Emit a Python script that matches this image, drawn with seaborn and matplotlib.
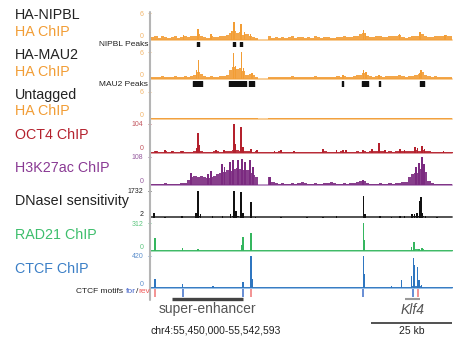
import numpy as np
import seaborn as sns
import matplotlib.pyplot as plt
from matplotlib.lines import Line2D

sns.set_theme(style="white")
plt.rcParams['font.family'] = ['Liberation Sans', 'DejaVu Sans']

# region shown: chr4:55,450,000-55,542,593, positions in kb from region start
REGION_KB = 92.593
REGION_LABEL = "chr4:55,450,000-55,542,593"

# background signal, 1 kb bins (None = no data)
NIPBL_BG = [0.6, 0.8, 0.5, 0.9, 0.7, 0.4, 0.6, 0.9, 0.5, 0.7,
            0.8, 0.6, 0.9, 1.0, 1.4, 0.8, 0.6, 0.5, 0.9, 0.7,
            0.6, 0.9, 0.8, 1.1, 1.6, 2.0, 1.5, 1.8, 1.2, 1.4,
            1.0, 0.7, 0.5, 0.4, None, None, 0.8, 0.5, 0.6, 0.4,
            0.7, 0.5, 0.6, 0.8, 0.5, 0.6, 0.7, 0.5, 0.6, 0.4,
            0.8, 0.6, 0.5, 0.7, 0.6, 0.4, 0.5, 0.7, 0.6, 0.8,
            0.7, 0.6, 0.9, 1.0, 1.3, 1.6, 1.0, 0.7, 0.6, 0.8,
            0.9, 0.6, 0.7, 0.8, 0.9, 1.0, 1.2, 0.7, 0.5, 0.6,
            0.8, 0.9, 1.0, 1.3, 0.9, 0.7, 0.6, 0.8, 1.0, 0.9,
            1.2, 0.8, 0.9]
NIPBL_SPIKES = [(10.0, 1.2), (14.5, 2.4), (18.5, 1.3), (24.8, 2.0), (25.5, 4.1),
                (27.7, 3.6), (28.8, 1.7), (30.6, 1.4), (65.3, 2.2), (66.0, 1.5),
                (76.5, 1.3), (82.8, 1.8), (90.5, 1.2)]
NIPBL_PEAKS = [(14.1, 0.8), (25.1, 0.8), (27.3, 0.8)]

MAU2_BG = [0.4, 0.5, 0.4, 0.6, 0.5, 0.4, 0.5, 0.6, 0.4, 0.5,
           0.6, 0.5, 0.7, 1.0, 1.6, 1.2, 0.6, 0.5, 0.6, 0.5,
           0.5, 0.6, 0.7, 0.9, 2.0, 2.6, 2.2, 2.4, 1.8, 0.9,
           1.1, 0.8, 0.5, 0.4, None, None, 0.5, 0.4, 0.5, 0.4,
           0.5, 0.4, 0.5, 0.6, 0.4, 0.5, 0.5, 0.4, 0.5, 0.4,
           0.6, 0.5, 0.4, 0.5, 0.5, 0.4, 0.5, 0.6, 0.5, 0.7,
           0.5, 0.5, 0.6, 0.8, 1.0, 1.3, 0.9, 0.6, 0.5, 0.6,
           0.7, 0.5, 0.6, 0.7, 0.6, 0.7, 0.8, 0.6, 0.5, 0.6,
           0.7, 0.9, 1.2, 1.5, 1.0, 0.7, 0.5, 0.6, 0.5, 0.4,
           0.5, 0.4, 0.5]
MAU2_SPIKES = [(14.0, 2.0), (14.6, 4.2), (25.3, 5.8), (26.0, 3.0), (27.9, 6.4),
               (28.5, 2.4), (31.0, 1.3), (59.0, 0.9), (65.3, 2.0), (66.2, 1.5),
               (70.2, 0.9), (82.8, 1.4), (83.1, 2.1)]
MAU2_PEAKS = [(12.9, 2.8), (24.0, 5.2), (30.2, 1.5), (58.8, 0.3),
              (65.0, 1.9), (70.2, 0.3), (82.6, 1.4)]

UNTAGGED_BG = [0.2, 0.3, 0.2, 0.2, 0.3, 0.2, 0.3, 0.2, 0.2, 0.3,
               0.2, 0.3, 0.2, 0.3, 0.3, 0.2, 0.2, 0.3, 0.2, 0.3,
               0.2, 0.3, 0.2, 0.3, 0.3, 0.3, 0.2, 0.3, 0.2, 0.2,
               0.3, 0.2, 0.2, 0.2, None, None, 0.2, 0.3, 0.2, 0.2,
               0.3, 0.2, 0.2, 0.3, 0.2, 0.2, 0.3, 0.2, 0.3, 0.2,
               0.2, 0.3, 0.2, 0.2, 0.3, 0.2, 0.3, 0.2, 0.2, 0.3,
               0.2, 0.3, 0.2, 0.3, 0.2, 0.3, 0.2, 0.2, 0.3, 0.2,
               0.3, 0.2, 0.2, 0.3, 0.2, 0.3, 0.2, 0.2, 0.3, 0.2,
               0.3, 0.2, 0.3, 0.3, 0.2, 0.2, 0.3, 0.2, 0.2, 0.3,
               0.2, 0.3, 0.2]
UNTAGGED_SPIKES = []

OCT4_BG = [3, 5, 2, 3, 6, 3, 4, 2, 3, 4,
           2, 3, 3, 5, 9, 6, 3, 2, 3, 4,
           4, 3, 5, 4, 7, 10, 8, 6, 7, 5,
           6, 3, 5, 2, 2, 2, 3, 2, 3, 4,
           2, 3, 2, 3, 2, 3, 2, 2, 3, 2,
           3, 2, 3, 4, 2, 3, 2, 3, 4, 3,
           2, 3, 3, 4, 3, 4, 3, 4, 5, 4,
           6, 4, 3, 4, 3, 4, 5, 4, 6, 5,
           6, 8, 7, 8, 6, 4, 3, 2, 3, 2,
           3, 2, 3]
OCT4_SPIKES = [(1.5, 6), (4.3, 10), (6.5, 6), (9.5, 5), (14.0, 18), (14.5, 72),
               (15.0, 28), (20.0, 8), (22.5, 10), (25.5, 104), (26.0, 30),
               (27.7, 94), (28.3, 20), (30.8, 12), (32.6, 10), (38.0, 6),
               (40.0, 8), (44.0, 5), (52.9, 12), (57.0, 8), (59.0, 10),
               (60.0, 8), (65.2, 8), (68.0, 12), (70.2, 35), (72.0, 8),
               (76.6, 14), (78.0, 10), (81.2, 20), (82.0, 16), (83.4, 22),
               (84.2, 12), (90.0, 6)]

H3K27AC_BG = [4, 5, 3, 4, 6, 5, 4, 3, 5, 6,
              8, 20, 32, 36, 30, 36, 30, 26, 30, 34,
              42, 48, 52, 58, 55, 62, 66, 60, 56, 58,
              46, 40, 30, 14, None, None, 30, 12, 6, 5,
              6, 4, 5, 6, 5, 8, 12, 6, 5, 4,
              6, 5, 4, 6, 8, 12, 6, 5, 4, 6,
              5, 6, 8, 12, 16, 14, 8, 5, 4, 5,
              6, 5, 4, 6, 5, 6, 8, 10, 12, 30,
              42, 48, 62, 72, 50, 14, 6, 4, 5, 3,
              4, 3, 3]
H3K27AC_SPIKES = [(12.3, 48), (17.5, 42), (18.5, 55), (21.8, 82), (22.6, 70),
                  (24.3, 90), (25.2, 96), (26.8, 98), (28.0, 100), (28.9, 88),
                  (30.5, 96), (31.4, 70), (36.6, 31), (65.2, 19), (81.5, 70),
                  (82.5, 86), (83.3, 108), (84.0, 80)]

DNASE_BG = [20, 30, 15, 20, 35, 15, 20, 15, 25, 30,
            15, 20, 30, 40, 80, 40, 20, 15, 30, 20,
            25, 40, 30, 35, 60, 80, 70, 60, 50, 40,
            60, 30, 25, 15, None, None, 15, 20, 15, 20,
            30, 15, 20, 15, 20, 25, 15, 20, 30, 15,
            20, 15, 25, 30, 15, 20, 30, 40, 20, 15,
            20, 15, 20, 25, 40, 60, 30, 20, 15, 20,
            30, 20, 15, 20, 25, 20, 30, 35, 40, 60,
            80, 90, 100, 90, 50, 30, 20, 15, 20, 15,
            20, 15, 20]
DNASE_SPIKES = [(0.9, 270), (4.3, 60), (9.5, 80), (13.8, 300), (14.5, 1732),
                (15.2, 200), (19.0, 80), (22.0, 80), (24.5, 200), (25.6, 1732),
                (26.2, 400), (27.7, 1650), (28.3, 300), (30.8, 1040), (32.2, 60),
                (40.0, 40), (48.0, 40), (52.9, 40), (57.0, 100), (65.3, 1385),
                (65.8, 200), (70.5, 80), (74.0, 60), (76.6, 80), (78.0, 120),
                (80.3, 200), (81.0, 250), (81.8, 300), (82.8, 1065), (83.1, 1350),
                (83.6, 300), (84.4, 80), (88.0, 40)]

RAD21_BG = [10, 12, 9, 10, 11, 9, 10, 12, 10, 9,
            11, 10, 9, 10, 12, 10, 9, 10, 11, 10,
            9, 10, 11, 10, 12, 11, 10, 12, 14, 12,
            12, 10, 9, 10, 9, 10, 9, 10, 11, 9,
            10, 9, 10, 11, 9, 10, 9, 10, 9, 10,
            11, 9, 10, 9, 10, 11, 9, 10, 9, 10,
            9, 10, 11, 12, 14, 16, 12, 10, 9, 10,
            9, 10, 11, 9, 10, 9, 10, 11, 12, 14,
            16, 18, 16, 20, 14, 10, 9, 10, 9, 10,
            9, 10, 9]
RAD21_SPIKES = [(1.2, 145), (9.7, 35), (14.4, 20), (28.0, 70), (28.3, 160),
                (30.8, 197), (65.3, 312), (65.6, 120), (80.2, 40), (80.9, 100),
                (82.5, 20), (83.3, 30)]

CTCF_BG = [6, 8, 5, 6, 7, 5, 6, 7, 5, 6,
           7, 5, 6, 7, 6, 5, 6, 7, 5, 6,
           7, 6, 5, 6, 7, 6, 8, 7, 9, 8,
           10, 7, 6, 5, 6, 5, 6, 5, 6, 7,
           5, 6, 5, 6, 7, 5, 6, 5, 6, 5,
           6, 7, 5, 6, 5, 6, 7, 5, 6, 5,
           6, 5, 6, 7, 8, 10, 8, 6, 5, 6,
           5, 6, 7, 6, 8, 6, 7, 10, 8, 10,
           14, 20, 16, 12, 8, 6, 5, 6, 5, 6,
           5, 6, 5]
CTCF_SPIKES = [(1.2, 117), (9.7, 45), (19.1, 15), (28.3, 80), (30.8, 420),
               (31.1, 120), (65.3, 420), (65.6, 180), (74.0, 25), (77.1, 100),
               (80.2, 150), (80.7, 400), (81.0, 300), (82.0, 267), (82.4, 100),
               (83.2, 40)]

CTCF_MOTIFS_FOR = [9.7, 28.3, 65.3, 80.7]
CTCF_MOTIFS_REV = [1.2, 30.8, 82.0]

SUPER_ENHANCER = (6.5, 28.3)
KLF4_GENE = (78.2, 82.7)
SCALE_KB = 25

ORANGE = "#F29D35"
# name, background, spikes, y range, tick labels, colour, tick colour, baseline colour, top px, base px
TRACKS = [
    ("nipbl", NIPBL_BG, NIPBL_SPIKES, (0, 6), ("0", "6"), ORANGE, "#F2B468", "#F8C98E", 13, 40),
    ("mau2", MAU2_BG, MAU2_SPIKES, (0, 6), ("0", "6"), ORANGE, "#F2B468", "#F8C98E", 52, 79),
    ("untagged", UNTAGGED_BG, UNTAGGED_SPIKES, (0, 6), ("0", "6"), ORANGE, "#F2B468", "#F8C98E", 92, 119),
    ("oct4", OCT4_BG, OCT4_SPIKES, (0, 104), ("0", "104"), "#B4212D", "#C2545D", "#D98A90", 124, 152.5),
    ("h3k27ac", H3K27AC_BG, H3K27AC_SPIKES, (0, 108), ("0", "108"), "#7B2A80", "#955A9E", "#B68CC0", 157, 185),
    ("dnase", DNASE_BG, DNASE_SPIKES, (2, 1732), ("2", "1732"), "#111111", "#222222", "#444444", 191, 217.5),
    ("rad21", RAD21_BG, RAD21_SPIKES, (0, 312), ("0", "312"), "#35B65F", "#5CC57E", "#9ADBB0", 223, 251),
    ("ctcf", CTCF_BG, CTCF_SPIKES, (0, 420), ("0", "420"), "#2F76C0", "#5C8FCC", "#8DB7E3", 256, 287.5),
]

LEFT_LABELS = [
    ("HA-NIPBL", "#222222", 15), ("HA ChIP", ORANGE, 32.5),
    ("HA-MAU2", "#222222", 55), ("HA ChIP", ORANGE, 71.5),
    ("Untagged", "#222222", 95), ("HA ChIP", ORANGE, 111.5),
    ("OCT4 ChIP", "#B4212D", 135), ("H3K27ac ChIP", "#8A3A94", 168.5),
    ("DNaseI sensitivity", "#222222", 201.5), ("RAD21 ChIP", "#3DBE6C", 235),
    ("CTCF ChIP", "#3A7EC6", 269),
]

W, H = 470, 340
X0, X1 = 151, 452
fig = plt.figure(figsize=(W / 100, H / 100), dpi=100)


def px_axes(left, top, width, height):
    ax = fig.add_axes([left / W, 1 - (top + height) / H, width / W, height / H])
    ax.set_facecolor("none")
    ax.set_xlim(0, REGION_KB)
    ax.set_xticks([])
    sns.despine(ax=ax, left=True, bottom=True)
    return ax


for name, bg, spikes, (lo, hi), (lo_lab, hi_lab), color, tick_col, light, top, base in TRACKS:
    ax = px_axes(X0, top, X1 - X0, base - top)
    vals = np.array([np.nan if v is None else v for v in bg], dtype=float)
    edges = np.arange(len(vals) + 1)
    ax.fill_between(edges, lo, np.append(vals, vals[-1]), step="post",
                    color=color, lw=0, alpha=0.9)
    if spikes:
        pos = [p for p, h in spikes]
        hts = [h - lo for p, h in spikes]
        ax.bar(pos, hts, bottom=lo, width=0.45, color=color, lw=0)
    ax.axhline(lo, color=light, lw=1.3, clip_on=False, zorder=0)
    ax.set_ylim(lo, hi)
    ax.set_yticks([hi])
    ax.set_yticklabels([hi_lab])
    ax.tick_params(axis="y", left=True, length=2.5, width=0.6, pad=3,
                   labelsize=5, colors=tick_col)
    ax.text(-7 / (X1 - X0), lo, lo_lab, transform=ax.get_yaxis_transform(),
            ha="right", va="bottom", fontsize=5, color=tick_col)

# called peaks
for peaks, top, h, lab in [(NIPBL_PEAKS, 42, 5, "NIPBL Peaks"),
                           (MAU2_PEAKS, 81, 6, "MAU2 Peaks")]:
    ax = px_axes(X0, top, X1 - X0, h)
    ax.set_ylim(0, 1)
    ax.set_yticks([])
    ax.broken_barh(peaks, (0, 1), color="#111111")
    fig.text(148 / W, 1 - (top + h / 2) / H, lab, ha="right", va="center",
             fontsize=6, color="#222222")

# CTCF motifs
ax = px_axes(X0, 289, X1 - X0, 8)
ax.set_ylim(0, 1)
ax.set_yticks([])
ax.vlines(CTCF_MOTIFS_FOR, 0, 1, color="#3F6FC9", lw=1.1)
ax.vlines(CTCF_MOTIFS_REV, 0, 1, color="#F07575", lw=1.1)
ty = 1 - 291.5 / H
t = fig.text(150 / W, ty, "rev", ha="right", va="center", fontsize=6, color="#F05A5A")
fig.canvas.draw()
bb = t.get_window_extent()
t2 = fig.text(bb.x0 / W, ty, "/", ha="right", va="center", fontsize=6, color="#222222")
bb = t2.get_window_extent()
t3 = fig.text(bb.x0 / W, ty, "for", ha="right", va="center", fontsize=6, color="#4060C8")
bb = t3.get_window_extent()
fig.text(bb.x0 / W, ty, "CTCF motifs ", ha="right", va="center", fontsize=6, color="#222222")

# gray axis line
fig.add_artist(Line2D([150 / W, 150 / W], [1 - 12 / H, 1 - 300 / H],
                      color="#b5b5b5", lw=1.5))

# annotations below tracks (y in pixels)
ann = px_axes(X0, 292, X1 - X0, 48)
ann.set_ylim(340, 292)
ann.set_yticks([])
ann.hlines(299, *SUPER_ENHANCER, color="#444444", lw=2.4)
ann.text(np.mean(SUPER_ENHANCER), 309.5, "super-enhancer", ha="center", va="center",
         fontsize=10, color="#555555")
ann.hlines(299, *KLF4_GENE, color="#9a9a9a", lw=1.5)
ann.text(np.mean(KLF4_GENE), 309.5, "Klf4", ha="center", va="center",
         fontsize=10, color="#555555", style="italic")
ann.hlines(322.5, REGION_KB - SCALE_KB, REGION_KB, color="#333333", lw=1.2)
ann.text(REGION_KB - SCALE_KB / 2, 330.5, f"{SCALE_KB} kb", ha="center", va="center",
         fontsize=7.5, color="#222222")
fig.text(216 / W, 1 - 330.5 / H, REGION_LABEL, ha="center", va="center",
         fontsize=7.5, color="#222222")

for txt, col, y in LEFT_LABELS:
    fig.text(15 / W, 1 - y / H, txt, ha="left", va="center", fontsize=10.3, color=col)

fig.savefig("out.png", dpi=100)
